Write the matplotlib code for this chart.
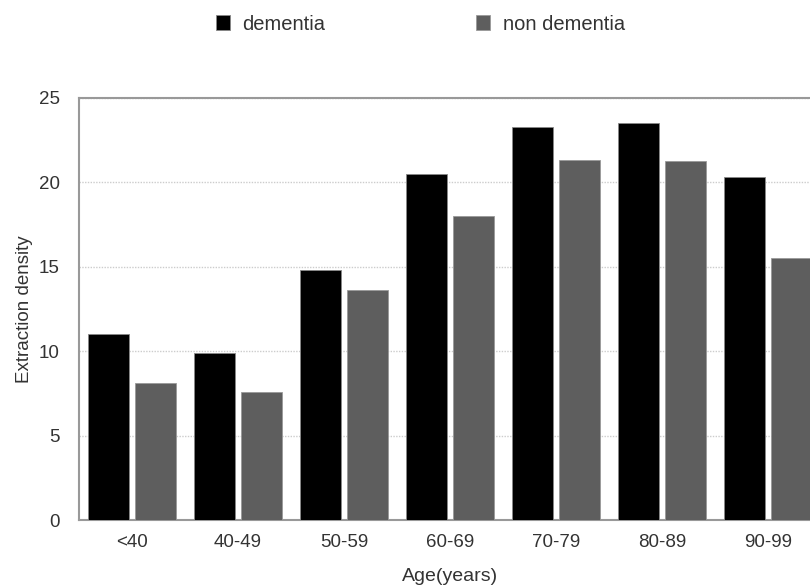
import numpy as np
import matplotlib.pyplot as plt

plt.rcParams['font.family'] = ['Liberation Sans', 'DejaVu Sans']

# data
ages = ['<40', '40-49', '50-59', '60-69', '70-79', '80-89', '90-99']
dementia = [11.0, 9.9, 14.8, 20.5, 23.3, 23.5, 20.3]
non_dementia = [8.1, 7.6, 13.6, 18.0, 21.3, 21.25, 15.5]

txt = '#333333'
x = np.arange(len(ages))
width = 0.39

fig = plt.figure(figsize=(8.1, 5.86), dpi=100)
ax = fig.add_axes([0.0975, 0.1126, 0.916, 0.7202])

ax.bar(x - 0.22, dementia, width, color='black', edgecolor='#888888', linewidth=0.6,
       label='dementia', zorder=3)
ax.bar(x + 0.22, non_dementia, width, color='#5e5e5e', edgecolor='#999999', linewidth=0.6,
       label='non dementia', zorder=3)

ax.set_xlim(-0.5, 6.5)
ax.set_ylim(0, 25)
ax.set_yticks([0, 5, 10, 15, 20, 25])
ax.set_xticks(x)
ax.set_xticklabels(ages)
ax.tick_params(length=0, labelsize=13.5, labelcolor=txt, pad=10)
ax.tick_params(axis='y', pad=14)

# grid
ax.yaxis.grid(True, linestyle=(0, (1, 1)), color='#cccccc', linewidth=1)
ax.set_axisbelow(True)

for s in ['left', 'top', 'bottom']:
    ax.spines[s].set_color('#999999')
    ax.spines[s].set_linewidth(1.5)
ax.spines['right'].set_visible(False)

ax.set_ylabel('Extraction density', fontsize=13.5, color=txt, labelpad=4)
ax.set_xlabel('Age(years)', fontsize=14, color=txt, labelpad=12)

# legend
fig.legend(loc='center', bbox_to_anchor=(0.519, 0.959), ncol=2, frameon=False,
           fontsize=14.5, handlelength=0.7, handleheight=0.7, handletextpad=0.6,
           columnspacing=7.5, labelcolor=txt)

plt.savefig('out.png', dpi=100)
